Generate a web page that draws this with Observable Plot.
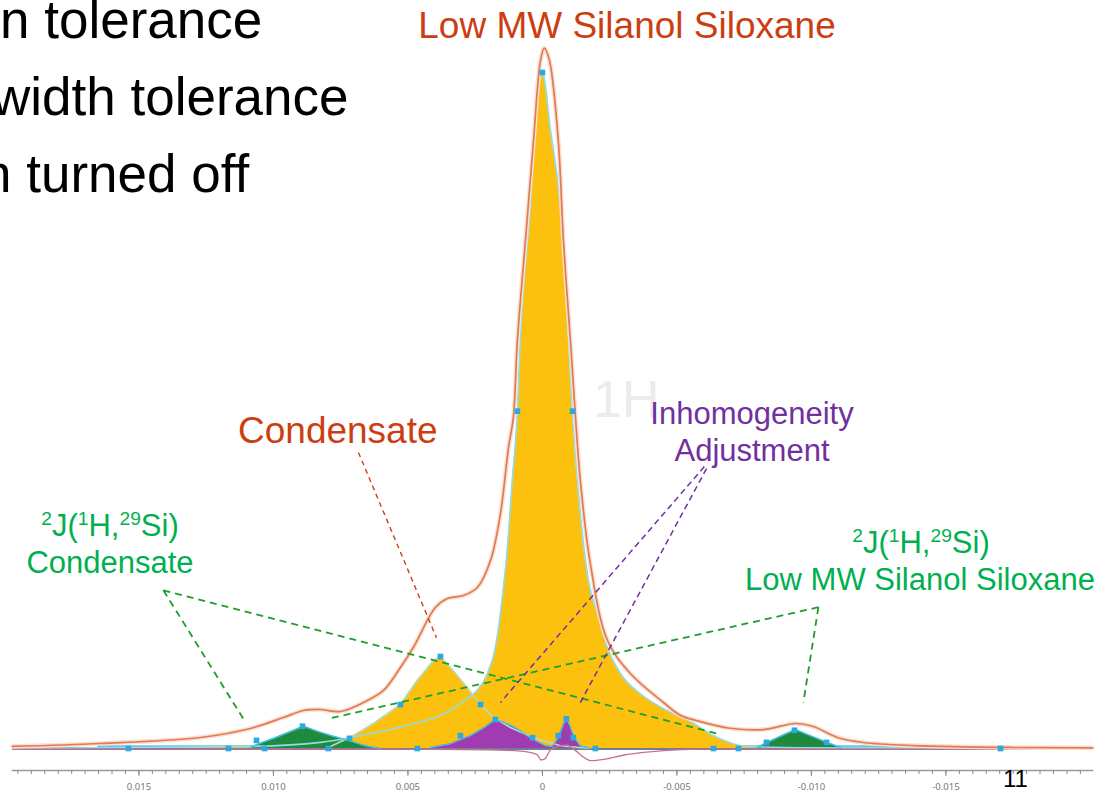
<!DOCTYPE html>
<html><head><meta charset="utf-8">
<script src="https://cdn.jsdelivr.net/npm/d3@7"></script>
<script src="https://cdn.jsdelivr.net/npm/@observablehq/plot@0.6"></script>
<style>
body{margin:0;background:#fff;}
#wrap{position:relative;width:1105px;height:795px;overflow:hidden;font-family:"Liberation Sans",Arial,sans-serif;}
#wrap svg{position:absolute;left:0;top:0;}
.t{position:absolute;white-space:nowrap;line-height:1;}
.c{transform:translateX(-50%);}
sup{font-size:0.62em;vertical-align:0.55em;line-height:0;}
</style></head><body><div id="wrap"></div>
<script>
// ---- data (ppm offset, relative intensity; 100 = main peak) ----
const mainPeak = [[0.0197,0],[0.01086,0.3],[0.00825,0.9],[0.00688,1.8],[0.00565,2.8],[0.00465,3.8],[0.00379,4.9],[0.00279,7.4],[0.00242,8.6],[0.00204,11.1],[0.00175,14.9],[0.00149,22.3],[0.00130,29.7],[0.00112,39.6],[0.00093,49.6],[0.00082,60.4],[0.00045,80.0],[0.00025,92.5],[0,100],[-0.00030,91.5],[-0.00067,80.0],[-0.00097,60.4],[-0.00112,49.6],[-0.00141,34.8],[-0.00171,24.9],[-0.00204,20.0],[-0.00242,14.9],[-0.00290,11.1],[-0.00364,8.1],[-0.00450,5.9],[-0.00550,4.0],[-0.00636,1.9],[-0.00762,0.3],[-0.0100,0.1],[-0.02045,0]];
const condensatePeak = [[0.00788,0.3],[0.00703,1.9],[0.00628,3.7],[0.00528,6.5],[0.00465,10.1],[0.00405,13.0],[0.00379,13.6],[0.00331,11.5],[0.00279,9.0],[0.00230,6.5],[0.00182,4.6],[0.00119,3.1],[0.00033,1.6],[-0.00067,0.4],[-0.00178,0]];
const inhomogeneityPeak = [[0.00416,0.15],[0.00342,0.7],[0.00268,1.9],[0.00216,3.1],[0.00175,4.3],[0.00138,3.8],[0.00100,3.1],[0.00045,1.6],[-0.00011,0.4],[-0.00037,0.3],[-0.00059,1.6],[-0.00078,3.6],[-0.00089,4.4],[-0.00100,3.6],[-0.00119,1.6],[-0.00141,0.4],[-0.00178,0]];
const satelliteCondensate = [[0.01086,0.15],[0.01041,0.9],[0.00993,1.6],[0.00937,2.5],[0.00888,3.3],[0.00833,2.5],[0.00777,1.8],[0.00721,1.2],[0.00658,0.4],[0.00602,0]];
const satelliteSilanol = [[-0.00792,0],[-0.00836,0.9],[-0.00885,1.8],[-0.00941,2.8],[-0.00996,1.9],[-0.01052,1.0],[-0.01108,0.15]];
const totalFit = [[0.0197,0.3],[0.01643,0.74],[0.01271,1.63],[0.01086,2.96],[0.00963,4.59],[0.00888,5.62],[0.00825,5.77],[0.00751,5.47],[0.00651,7.10],[0.00591,8.58],[0.00528,11.98],[0.00480,14.94],[0.00398,20.86],[0.00353,22.19],[0.00294,22.63],[0.00242,23.82],[0.00193,27.81],[0.00156,34.76],[0.00126,44.53],[0.00108,48.96],[0.00093,60.36],[0.00063,75.15],[0.00033,89.94],[0.00007,101.8],[-0.00007,103.6],[-0.00026,101.8],[-0.00059,89.94],[-0.00078,75.15],[-0.00104,60.36],[-0.00123,48.96],[-0.00141,39.64],[-0.00178,27.37],[-0.00242,15.98],[-0.00327,11.09],[-0.00450,6.8],[-0.00513,4.9],[-0.00576,4.1],[-0.00699,3.0],[-0.00822,2.8],[-0.00941,3.7],[-0.01007,3.25],[-0.01097,1.63],[-0.01193,0.89],[-0.01379,0.44],[-0.01751,0.15],[-0.02045,0.1]];
const residual = [[0.0197,-0.1],[0.006,-0.1],[0.002,-0.2],[0.0008,-0.4],[0.0002,-0.9],[0.00005,-1.7],[-0.0001,-1.5],[-0.0003,-0.2],[-0.0006,0.3],[-0.0009,0.5],[-0.0012,-0.2],[-0.0015,-1.2],[-0.0018,-1.8],[-0.0023,-1.6],[-0.003,-1.0],[-0.004,-0.5],[-0.005,-0.2],[-0.006,-0.1],[-0.02045,-0.1]];
const baselineBand = [[0.0165,0.3],[-0.0165,0.3]];
const fitMarkers = [[0,100],[0.00093,49.9],[-0.00112,49.9],[0.00379,13.6],[0.00528,6.5],[0.00230,6.5],[0.00175,4.3],[0.00305,1.9],[0.00037,1.6],[-0.00089,4.4],[-0.00059,1.9],[-0.00115,1.6],[0.01063,1.2],[0.00892,3.3],[0.00717,1.5],[-0.00833,0.9],[-0.00937,2.7],[-0.01056,0.9],[0.01539,0],[0.01167,0],[0.01033,0],[0.00796,0],[0.00465,0],[-0.00197,0],[-0.00636,0],[-0.00729,0],[-0.01703,0]];
// annotation leader lines: [x1, y1, x2, y2]
const condensateLeader = [[0.00684,43.8,0.00394,16.4]];
const satelliteLeaders = [[0.01409,23.4,0.01112,4.4],[0.01409,23.4,-0.00651,2.2],[-0.01026,20.9,-0.00970,6.8],[-0.01026,20.9,0.00796,4.4]];
const inhomogeneityLeaders = [[-0.00602,41.7,0.00156,6.8],[-0.00610,41.4,-0.00141,6.8]];
const tickValues = [0.015,0.010,0.005,0,-0.005,-0.010,-0.015];
const tickLabels = ["0.015","0.010","0.005","0","-0.005","-0.010","-0.015"];

const pts = a => a.map(([x,y]) => ({x,y}));
const segs = a => a.map(([x1,y1,x2,y2]) => ({x1,y1,x2,y2}));

const yellow = "#fcc10f", purple = "#a03cb2", green = "#208a3c", cyan = "#2aaae0";

const chart = Plot.plot({
  width: 1105, height: 795,
  marginLeft: 12, marginRight: 13, marginTop: 0, marginBottom: 25,
  x: {domain: [0.0197, -0.02045], range: [12, 1092], label: null},
  y: {domain: [0, 100], range: [748, 72], axis: null},
  style: {background: "transparent"},
  marks: [
    Plot.ruleY([0], {stroke: "#6e7e9a", strokeWidth: 3}),
    Plot.line(pts(baselineBand), {x: "x", y: "y", stroke: "#5fc8ee", strokeWidth: 2.5}),
    Plot.areaY(pts(mainPeak), {x: "x", y: "y", fill: yellow, curve: "monotone-x"}),
    Plot.areaY(pts(condensatePeak), {x: "x", y: "y", fill: yellow, curve: "linear"}),
    Plot.areaY(pts(inhomogeneityPeak), {x: "x", y: "y", fill: purple, curve: "linear"}),
    Plot.areaY(pts(satelliteCondensate), {x: "x", y: "y", fill: green, curve: "linear"}),
    Plot.areaY(pts(satelliteSilanol), {x: "x", y: "y", fill: green, curve: "linear"}),
    Plot.line(pts(mainPeak), {x: "x", y: "y", stroke: "#8fdcea", strokeWidth: 1.6, curve: "monotone-x"}),
    Plot.line(pts(condensatePeak), {x: "x", y: "y", stroke: "#b4dcc4", strokeWidth: 1.6}),
    Plot.line(pts(inhomogeneityPeak), {x: "x", y: "y", stroke: "#45c2ea", strokeWidth: 1.3}),
    Plot.line(pts(satelliteCondensate), {x: "x", y: "y", stroke: "#45c2ea", strokeWidth: 1.5}),
    Plot.line(pts(satelliteSilanol), {x: "x", y: "y", stroke: "#45c2ea", strokeWidth: 1.5}),
    Plot.line(pts(residual), {x: "x", y: "y", stroke: "#c8708f", strokeWidth: 1.3, curve: "monotone-x"}),
    Plot.line(pts(totalFit), {x: "x", y: "y", stroke: "#fbe0d2", strokeWidth: 4.5, curve: "catmull-rom"}),
    Plot.line(pts(totalFit), {x: "x", y: "y", stroke: "#e27a52", strokeWidth: 1.7, curve: "catmull-rom"}),
    Plot.dot(pts(fitMarkers), {x: "x", y: "y", symbol: "square", r: 3.2, fill: cyan}),
    Plot.link(segs(condensateLeader), {x1: "x1", y1: "y1", x2: "x2", y2: "y2", stroke: "#d2400f", strokeWidth: 1.4, strokeDasharray: "5,4"}),
    Plot.link(segs(satelliteLeaders), {x1: "x1", y1: "y1", x2: "x2", y2: "y2", stroke: "#1e9e28", strokeWidth: 1.8, strokeDasharray: "7,5"}),
    Plot.link(segs(inhomogeneityLeaders), {x1: "x1", y1: "y1", x2: "x2", y2: "y2", stroke: "#7030a8", strokeWidth: 1.5, strokeDasharray: "6,4"}),
    Plot.frame({anchor: "bottom", stroke: "#9a9a9a", strokeWidth: 1.5}),
    Plot.axisX({ticks: 80, tickSize: 4, tickFormat: () => "", stroke: "#8a8a8a", label: null}),
    Plot.axisX({ticks: tickValues, tickSize: 6, tickPadding: 7, tickFormat: d => tickLabels[tickValues.indexOf(d)], fill: "#777", stroke: "#8a8a8a", fontSize: 9.5, label: null})
  ]
});
const wrap = document.getElementById("wrap");
wrap.appendChild(chart);

const labels = [
  {html: "n tolerance", left: 0, top: -7, size: 53, color: "#000"},
  {html: "width tolerance", left: -8, top: 70, size: 53, color: "#000"},
  {html: "n turned off", left: -18, top: 147, size: 53, color: "#000"},
  {html: "Low MW Silanol Siloxane", left: 627, top: 7, size: 37, color: "#cc3e12", center: true},
  {html: "Condensate", left: 238, top: 412, size: 37, color: "#cc3e12"},
  {html: "1H", left: 593, top: 373, size: 52, color: "#ececec"},
  {html: "Inhomogeneity", left: 752, top: 398, size: 31, color: "#7030a0", center: true},
  {html: "Adjustment", left: 752, top: 435, size: 31, color: "#7030a0", center: true},
  {html: "<sup>2</sup>J(<sup>1</sup>H,<sup>29</sup>Si)", left: 110, top: 510, size: 31, color: "#00b050", center: true},
  {html: "Condensate", left: 110, top: 547, size: 31, color: "#00b050", center: true},
  {html: "<sup>2</sup>J(<sup>1</sup>H,<sup>29</sup>Si)", left: 921, top: 527, size: 31, color: "#00b050", center: true},
  {html: "Low MW Silanol Siloxane", left: 920, top: 564, size: 31, color: "#00b050", center: true},
  {html: "11", left: 1003, top: 767, size: 24, color: "#000"}
];
for (const l of labels) {
  const d = document.createElement("div");
  d.className = "t" + (l.center ? " c" : "");
  d.style.left = l.left + "px"; d.style.top = l.top + "px";
  d.style.fontSize = l.size + "px"; d.style.color = l.color;
  d.innerHTML = l.html;
  wrap.appendChild(d);
}
</script></body></html>
